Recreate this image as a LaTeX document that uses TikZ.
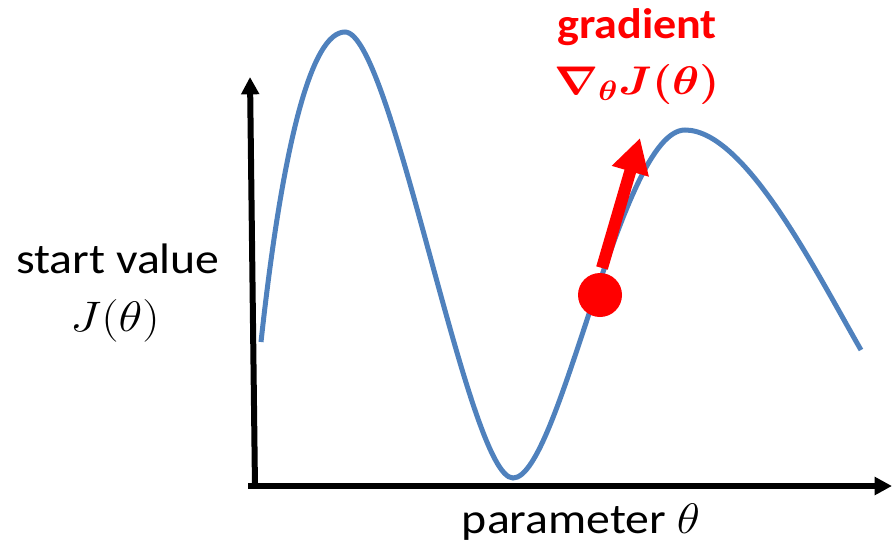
\documentclass[tikz,border=0pt]{standalone}
\usepackage{fix-cm}
\usepackage{fontspec}
\usepackage{amsmath,bm}
\setmainfont{Carlito}
\usetikzlibrary{arrows.meta}
\definecolor{curveblue}{RGB}{79,129,189}
\definecolor{gradred}{RGB}{255,0,0}
\newcommand{\wscale}[1]{\scalebox{1.12}[1]{#1}}
\begin{document}
\begin{tikzpicture}[x=0.75pt,y=-0.75pt,
  axis/.style={line width=4.5pt, -{Triangle[length=13pt,width=13pt]}},
  lbl/.style={font=\fontsize{32}{36}\selectfont, inner sep=0pt},
  redlbl/.style={font=\bfseries\fontsize{32}{36}\selectfont, text=gradred, inner sep=0pt}]
\useasboundingbox (0,0) rectangle (892,543);
% axes
\coordinate (Ytop) at (250,77);
\coordinate (Xend) at (892,486);
\draw[axis] (255,488) -- (Ytop);
\draw[axis] (248,486) -- (Xend);
% curve
\coordinate (c0) at (261,342);
\coordinate (p1) at (345,32);
\coordinate (t1) at (513,478);
\coordinate (p2) at (685,130);
\coordinate (c1) at (861,350);
\draw[curveblue, line width=3.75pt, line cap=butt]
  (c0) .. controls (283,140) and (312,32) .. (p1)
  .. controls (392,32) and (468,478) .. (t1)
  .. controls (560,478) and (620,130) .. (p2)
  .. controls (745,130) and (815,270) .. (c1);
% red dot and gradient arrow
\node[circle, fill=gradred, minimum size=33pt, inner sep=0pt] (dot) at (600,295) {};
\coordinate (tip) at (640,138);
\draw[gradred, line width=9pt, -{Triangle[length=26pt,width=27pt]}] (602,268) -- (tip);
% labels
\node[redlbl] (grad) at (637,27) {\scalebox{1.08}[1]{gradient}};
\node[text=gradred, font=\fontsize{30}{34}\selectfont, inner sep=0pt] (gradm) at (637,84) {\scalebox{1.15}[1]{$\bm{\nabla_{\theta} J(\theta)}$}};
\node[lbl] (sv) at (118,259) {\wscale{start value}};
\node[lbl] (Jt) at (115,321) {\scalebox{1.15}[1]{$J(\theta)$}};
\node[lbl] (par) at (581,522) {\wscale{parameter $\theta$}};
\end{tikzpicture}
\end{document}
